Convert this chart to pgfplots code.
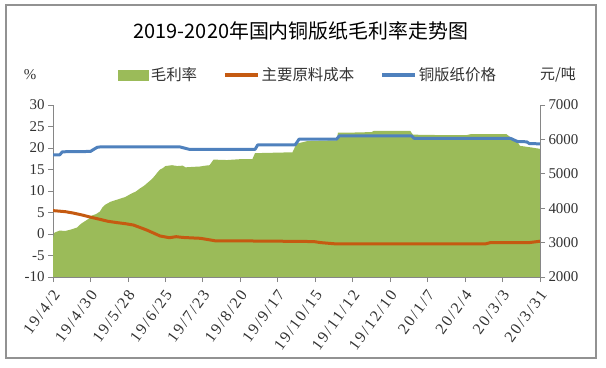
\documentclass[border=0pt]{standalone}
\usepackage{pgfplots}
\pgfplotsset{compat=1.18}
\usepackage{fontspec}
\setmainfont{Liberation Serif}
\newfontfamily\wideserif[LetterSpace=12]{Liberation Serif}
\newfontfamily\cjk{Noto Sans CJK SC}
\definecolor{mgreen}{RGB}{155,187,89}
\definecolor{morange}{RGB}{197,90,17}
\definecolor{mblue}{RGB}{79,129,189}
\definecolor{axgray}{RGB}{134,134,134}
\definecolor{txt}{RGB}{50,50,50}
\begin{document}
\begin{tikzpicture}
\useasboundingbox (0,0) rectangle (606bp,368bp);
\draw[draw=axgray!90, line width=1.5bp] (6bp,10bp) rectangle (596bp,363bp);
\node[font=\fontsize{20}{23}\selectfont\cjk, text=black] at (301bp,337bp) {2019-2020年国内铜版纸毛利率走势图};
\node[font=\fontsize{15}{18}\selectfont, text=txt] at (30bp,293bp) {\%};
\node[font=\fontsize{15}{18}\selectfont\cjk, text=txt] at (558bp,293bp) {元/吨};
\begin{axis}[
  at={(53bp,91bp)}, anchor=south west,
  width=487bp, height=172bp, scale only axis,
  xmin=0, xmax=364, ymin=-10, ymax=30,
  axis y line*=left, axis x line*=bottom,
  axis line style={axgray, line width=0.8bp},
  every tick/.style={axgray, line width=0.8bp},
  tick align=outside, major tick length=5bp,
  ytick={-10,-5,...,30},
  xtick={0,28,...,364},
  xticklabels={19/4/2,19/4/30,19/5/28,19/6/25,19/7/23,19/8/20,19/9/17,19/10/15,19/11/12,19/12/10,20/1/7,20/2/4,20/3/3,20/3/31},
  xticklabel style={xshift=4bp, yshift=-9bp, rotate=54, anchor=east, inner sep=1bp, font=\fontsize{16}{18}\selectfont\wideserif},
  ticklabel style={font=\fontsize{15}{18}\selectfont, text=txt},
  /pgf/number format/assume math mode=true,
  /pgf/number format/1000 sep={},
  clip=true,
]
\addplot[fill=mgreen, draw=none] coordinates {
(0,-10) (0,-1.0) (1,0.3) (5,0.8) (9,0.7) (13,1.0) (18,1.5) (21,2.4) (24,3.0) (27,3.6) (29,4.3) (32,4.6) (35,5.2)
(37,6.2) (39,6.8) (43,7.5) (46,7.8) (50,8.2) (54,8.6) (58,9.3) (62,9.9) (65,10.6) (68,11.2) (71,12.0)
(74,12.8) (76,13.5) (78,14.3) (80,15.0) (82,15.3) (84,15.8) (89,16.0) (93,15.8) (97,15.9) (99,15.5)
(104,15.6) (110,15.7) (114,15.9) (117,16.0) (120,17.3) (130,17.2) (140,17.4) (149,17.4) (151,18.8)
(165,18.9) (179,19.0) (182,21.0) (190,21.6) (200,21.7) (212,21.8) (213,23.6) (225,23.6) (238,23.7) (240,24.0)
(255,24.0) (267,24.0) (269,23.1) (290,23.0) (309,23.0) (312,23.2) (339,23.2) (342,22.5) (347,21.5)
(349,20.5) (356,20.2) (364,19.8) (364,-10)
};
\end{axis}
\begin{axis}[
  at={(53bp,91bp)}, anchor=south west,
  width=487bp, height=172bp, scale only axis,
  xmin=0, xmax=364, ymin=2000, ymax=7000,
  axis y line*=right, axis x line=none,
  axis line style={axgray, line width=0.8bp},
  every tick/.style={axgray, line width=0.8bp},
  tick align=outside, major tick length=5bp,
  ytick={2000,3000,...,7000},
  ticklabel style={font=\fontsize{15}{18}\selectfont, text=txt},
  /pgf/number format/assume math mode=true,
  /pgf/number format/1000 sep={},
  legend style={at={(0.524,1.174)}, anchor=center, draw=none, fill=none,
    font=\fontsize{15.5}{18}\selectfont\cjk, text=txt,
    /tikz/every even column/.append style={column sep=24bp}},
  legend columns=3,
]
\addlegendimage{legend image code/.code={\fill[mgreen] (0bp,-5bp) rectangle (30bp,5bp);}}
\addlegendentry{毛利率}
\addplot[morange, line width=3bp, line join=round,
  legend image code/.code={\draw[morange, line width=3.5bp] (0bp,0bp) -- (33bp,0bp);}] coordinates {
(0,3930) (9,3900) (15,3860) (22,3800) (28,3740) (35,3677) (41,3620) (48,3580) (54,3550) (60,3512) (65,3440) (70,3366)
(75,3280) (80,3192) (87,3142) (92,3172) (97,3150) (102,3140) (110,3125) (117,3080) (122,3047) (135,3050)
(148,3047) (170,3040) (195,3030) (200,3000) (212,2960) (260,2960) (323,2960) (327,3000) (356,3000) (364,3040)
};
\addlegendentry{主要原料成本}
\addplot[mblue, line width=3bp, line join=round,
  legend image code/.code={\draw[mblue, line width=3.5bp] (0bp,0bp) -- (33bp,0bp);}] coordinates {
(0,5550) (5,5550) (7,5640) (28,5650) (30,5700) (33,5770) (35,5780) (95,5780) (102,5710) (151,5710)
(153,5840) (181,5840) (184,6010) (212,6010) (214,6100) (268,6100) (270,6030) (342,6030) (347,5940)
(354,5930) (356,5880) (364,5870)
};
\addlegendentry{铜版纸价格}
\end{axis}
\end{tikzpicture}
\end{document}
